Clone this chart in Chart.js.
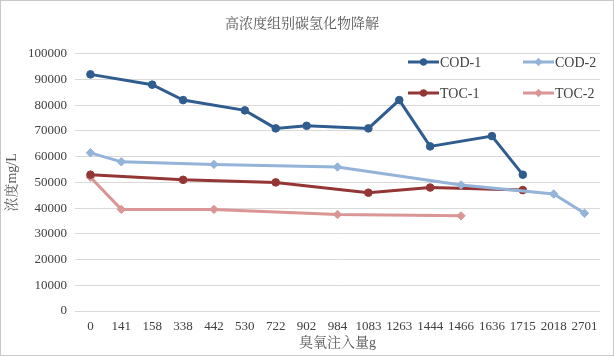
<!DOCTYPE html>
<html>
<head>
<meta charset="utf-8">
<script src="https://cdn.jsdelivr.net/npm/chart.js@4"></script>
<style>
  html, body { margin: 0; padding: 0; background: #fff; }
  #wrap { width: 614px; height: 356px; position: relative; }
</style>
</head>
<body>
<div id="wrap"><canvas id="chart" width="614" height="356"></canvas></div>
<script>
// 臭氧注入量 (g)
const ozoneDose = ["0", "141", "158", "338", "442", "530", "722", "902", "984", "1083", "1263", "1444", "1466", "1636", "1715", "2018", "2701"];

// 浓度 mg/L, null = 该点无数据
const cod1 = [92000, null, 88000, 82000, null, 78000, 71000, 72000, null, 71000, 82000, 64000, null, 68000, 53000, null, null];
const cod2 = [61500, 58000, null, null, 57000, null, null, null, 56000, null, null, null, 49000, null, null, 45500, 38000];
const toc1 = [53000, null, null, 51000, null, null, 50000, null, null, 46000, null, 48000, null, null, 47000, null, null];
const toc2 = [52000, 39500, null, null, 39500, null, null, null, 37500, null, null, null, 37000, null, null, null, null];

const yTicks = [0, 10000, 20000, 30000, 40000, 50000, 60000, 70000, 80000, 90000, 100000];

const FONT = '"Liberation Serif", "Noto Serif CJK SC", "Noto Sans CJK SC", serif';

// 外框 + 白底
const framePlugin = {
  id: "frame",
  beforeDraw(chart) {
    const ctx = chart.ctx;
    ctx.save();
    ctx.fillStyle = "#fff";
    ctx.fillRect(0, 0, chart.width, chart.height);
    ctx.strokeStyle = "#c8c8c8";
    ctx.lineWidth = 1;
    ctx.strokeRect(0.5, 0.5, chart.width - 1, chart.height - 1);
    ctx.restore();
  },
};

// 图例 (右上角两行两列)
const legendPlugin = {
  id: "cornerLegend",
  afterDraw(chart) {
    const ctx = chart.ctx;
    const cols = [408, 523];
    const rows = [62, 93];
    ctx.save();
    chart.data.datasets.forEach((ds, i) => {
      const x = cols[i % 2];
      const y = rows[Math.floor(i / 2)];
      ctx.strokeStyle = ds.borderColor;
      ctx.lineWidth = 3;
      ctx.beginPath();
      ctx.moveTo(x, y);
      ctx.lineTo(x + 31, y);
      ctx.stroke();
      ctx.fillStyle = ds.borderColor;
      ctx.strokeStyle = ds.borderColor;
      ctx.lineWidth = 1;
      Chart.helpers.drawPoint(ctx, {
        pointStyle: ds.pointStyle,
        radius: ds.pointRadius - 0.5,
        borderWidth: 1,
      }, x + 15.5, y);
      ctx.fillStyle = "#404040";
      ctx.font = "14px " + FONT;
      ctx.textBaseline = "middle";
      ctx.fillText(ds.label, x + 32, y + 1);
    });
    ctx.restore();
  },
};

function series(label, data, color, style, r) {
  return {
    label: label,
    data: data,
    borderColor: color,
    backgroundColor: color,
    pointBackgroundColor: color,
    pointBorderColor: color,
    pointBorderWidth: 1,
    pointStyle: style,
    pointRadius: r,
    pointHoverRadius: r,
    borderWidth: 3,
    spanGaps: true,
    tension: 0,
  };
}

new Chart(document.getElementById("chart"), {
  type: "line",
  data: {
    labels: ozoneDose,
    datasets: [
      series("COD-1", cod1, "#2f5d8f", "circle", 3.8),
      series("COD-2", cod2, "#93b3d9", "rectRot", 4.2),
      series("TOC-1", toc1, "#943634", "circle", 3.8),
      series("TOC-2", toc2, "#d99694", "rectRot", 4.2),
    ],
  },
  options: {
    responsive: false,
    animation: false,
    devicePixelRatio: 1,
    layout: { padding: { left: 4, right: 14, top: 4, bottom: 4.6 } },
    plugins: {
      legend: { display: false },
      tooltip: { enabled: false },
      title: {
        display: true,
        text: "高浓度组别碳氢化物降解",
        color: "#595959",
        font: { family: FONT, size: 14, weight: "normal" },
        padding: { top: 12, bottom: 21 },
      },
    },
    scales: {
      x: {
        offset: true,
        grid: { display: false, drawTicks: false },
        border: { display: false },
        afterFit(axis) {
          axis.height = 40.4;
        },
        ticks: {
          color: "#404040",
          font: { family: FONT, size: 13 },
          maxRotation: 0,
          minRotation: 0,
          autoSkip: false,
          padding: 8,
        },
        title: {
          display: true,
          text: "臭氧注入量g",
          color: "#595959",
          font: { family: FONT, size: 14 },
          padding: { top: 0, bottom: 0 },
        },
      },
      y: {
        min: 0,
        max: 100000,
        afterBuildTicks(axis) {
          axis.ticks = yTicks.map((v) => ({ value: v }));
        },
        afterFit(axis) {
          axis.width = 71;
        },
        grid: { color: "#d9d9d9", lineWidth: 1, drawTicks: false },
        border: { display: false },
        ticks: {
          color: "#404040",
          font: { family: FONT, size: 13 },
          padding: 8,
          callback: (v) => String(v),
        },
        title: {
          display: true,
          text: "浓度mg/L",
          color: "#595959",
          font: { family: FONT, size: 14 },
          padding: { top: 0, bottom: 2 },
        },
      },
    },
  },
  plugins: [framePlugin, legendPlugin],
});
</script>
</body>
</html>
